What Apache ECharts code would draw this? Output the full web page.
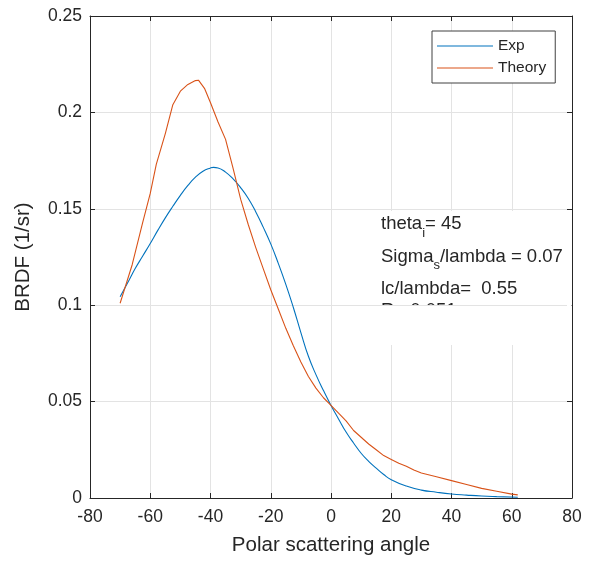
<!DOCTYPE html>
<html><head><meta charset="utf-8">
<script src="https://cdn.jsdelivr.net/npm/echarts@6/dist/echarts.min.js"></script>
<style>html,body{margin:0;padding:0;background:#fff}#c{width:590px;height:563px}</style>
</head><body><div id="c"></div>
<script>
// ---- data ----
const expX = [-70,-67,-65,-62.5,-60,-57.5,-55,-52.5,-50,-47.5,-45,-42.5,-40,-39,-37.5,-35,-32.5,-30,-27.5,-25,-22.5,-20,-17.5,-15,-12.5,-10,-7.5,-5,-2.5,0,2.5,5,7.5,10,12.5,15,17.5,20,25,30,35,40,45,50,55,62];
const expY = [0.1044,0.1131,0.119,0.1255,0.132,0.1388,0.1453,0.1513,0.157,0.1621,0.1664,0.1695,0.1712,0.1715,0.1712,0.169,0.1655,0.161,0.1555,0.1485,0.1405,0.1318,0.1217,0.1108,0.0988,0.0858,0.0735,0.064,0.0557,0.048,0.041,0.0342,0.0285,0.0232,0.019,0.0155,0.0122,0.0095,0.0062,0.0041,0.003,0.0021,0.0015,0.001,0.0007,0.0004];
const theoryX = [-70,-66,-62.5,-60,-58,-55,-52.5,-50,-47.5,-45,-44,-42,-40,-37.5,-35,-32.5,-30,-27.5,-25,-22.5,-20,-17.5,-15,-12.5,-10,-7.5,-5,-2.5,0,2.5,5,7.5,10,12.5,15,17.5,20,22.5,25,27.5,30,35,40,45,50,55,60,62];
const theoryY = [0.101,0.121,0.143,0.158,0.173,0.189,0.204,0.211,0.2145,0.2165,0.2167,0.2125,0.205,0.195,0.186,0.171,0.155,0.142,0.13,0.119,0.108,0.098,0.088,0.079,0.0705,0.063,0.057,0.052,0.048,0.044,0.04,0.035,0.0315,0.028,0.025,0.022,0.02,0.018,0.0165,0.0145,0.013,0.011,0.009,0.007,0.005,0.0035,0.002,0.0016];
const seriesNames = ['Exp', 'Theory'];
const xRange = [-80, 80, 20];
const yRange = [0, 0.25, 0.05];
const xTitle = 'Polar scattering angle';
const yTitle = 'BRDF (1/sr)';
const noteLines = [['theta','i','= 45'],['Sigma','s','/lambda = 0.07'],['lc/lambda=  0.55','',''],['R= 0.051','','']];

// ---- styles ----
const FONT = '"Liberation Sans", Arial, Helvetica, sans-serif';
const TXT = '#262626';
const GRIDC = '#e3e3e3';
const chart = echarts.init(document.getElementById('c'), null, {renderer:'canvas'});

function xa(pos, main){
  return {type:'value', position:pos, min:xRange[0], max:xRange[1], interval:xRange[2],
    axisLine:{show:true, onZero:false, lineStyle:{color:TXT, width:1}},
    axisTick:{show:true, inside:true, length:5, lineStyle:{color:TXT}},
    axisLabel:{show:main, color:TXT, fontFamily:FONT, fontSize:17.5, margin:10},
    splitLine:{show:main, lineStyle:{color:GRIDC, width:1}},
    name: main ? xTitle : '', nameLocation:'middle', nameGap:37,
    nameTextStyle:{color:TXT, fontFamily:FONT, fontSize:20.5}};
}
function ya(pos, main){
  return {type:'value', position:pos, min:yRange[0], max:yRange[1], interval:yRange[2],
    axisLine:{show:true, onZero:false, lineStyle:{color:TXT, width:1}},
    axisTick:{show:true, inside:true, length:5, lineStyle:{color:TXT}},
    axisLabel:{show:main, color:TXT, fontFamily:FONT, fontSize:17.5, margin:8},
    splitLine:{show:main, lineStyle:{color:GRIDC, width:1}},
    name: main ? yTitle : '', nameLocation:'middle', nameGap:56,
    nameTextStyle:{color:TXT, fontFamily:FONT, fontSize:20.5}};
}

chart.setOption({
  animation:false,
  backgroundColor:'#fff',
  grid:{left:90, right:18, top:16, bottom:65, containLabel:false},
  xAxis:[xa('bottom', true), xa('top', false)],
  yAxis:[ya('left', true), ya('right', false)],
  legend:{left:432, top:31, orient:'vertical', icon:'rect', itemWidth:56, itemHeight:1.2, itemGap:6,
    padding:[7,9,7,5], borderColor:'#404040', borderWidth:1, backgroundColor:'#fff',
    textStyle:{color:TXT, fontFamily:FONT, fontSize:15.5}, data:seriesNames},
  series:[
    {name:seriesNames[0], type:'line', color:'#0072BD', showSymbol:false, symbol:'none', smooth:0.5,
     lineStyle:{width:1.1}, data:expX.map((x,i)=>[x,expY[i]]), z:2},
    {name:seriesNames[1], type:'line', color:'#D95319', showSymbol:false, symbol:'none',
     lineStyle:{width:1.1}, data:theoryX.map((x,i)=>[x,theoryY[i]]), z:3}
  ]
});

// ---- annotation ----
const ctx = document.createElement('canvas').getContext('2d');
function tw(t, fs){ ctx.font = fs + 'px ' + FONT; return ctx.measureText(t).width; }
const g = [];
const gy = chart.convertToPixel({yAxisIndex:0}, 0.1);
const rightX = chart.convertToPixel({xAxisIndex:0}, xRange[1]);
g.push({type:'rect', z:10, shape:{x:376, y:211, width:rightX-376-0.5, height:134}, style:{fill:'#fff'}});
const centers = [224, 256.5, 289, 311];
const x0 = 381;
const FS = 18.5, SFS = 13;
noteLines.forEach((ln, i) => {
  let x = x0;
  const cy = centers[i];
  g.push({type:'text', z:11, style:{text:ln[0], x:x, y:cy, font:FS+'px '+FONT, fill:TXT, verticalAlign:'middle', align:'left'}});
  x += tw(ln[0], FS);
  if (ln[1]) {
    g.push({type:'text', z:11, style:{text:ln[1], x:x, y:cy+9, font:SFS+'px '+FONT, fill:TXT, verticalAlign:'middle', align:'left'}});
    x += tw(ln[1], SFS);
  }
  if (ln[2]) {
    g.push({type:'text', z:11, style:{text:ln[2], x:x, y:cy, font:FS+'px '+FONT, fill:TXT, verticalAlign:'middle', align:'left'}});
  }
});
g.push({type:'rect', z:12, shape:{x:376, y:Math.round(gy)+0.5, width:rightX-376-0.5, height:345-Math.round(gy)-0.5}, style:{fill:'#fff'}});
g.push({type:'line', z:13, shape:{x1:376, y1:Math.round(gy)+0.5, x2:rightX-5, y2:Math.round(gy)+0.5}, style:{stroke:GRIDC, lineWidth:1}});
chart.setOption({graphic:{elements:g}});
</script>
</body></html>
